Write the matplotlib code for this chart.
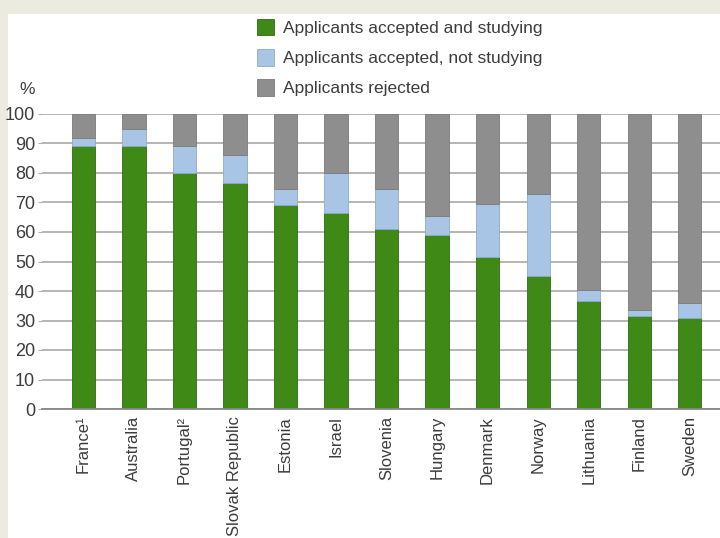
import matplotlib
matplotlib.use("Agg")
import matplotlib.pyplot as plt
import numpy as np
from matplotlib.patches import Rectangle, Patch

plt.rcParams['font.family'] = ['Liberation Sans Narrow', 'Liberation Sans', 'DejaVu Sans']

countries = ["France\u00b9", "Australia", "Portugal\u00b2", "Slovak Republic", "Estonia",
             "Israel", "Slovenia", "Hungary", "Denmark", "Norway", "Lithuania",
             "Finland", "Sweden"]
# share of applicants, %
studying = [89, 89, 80, 76.5, 69, 66.5, 61, 59, 51.5, 45, 36.5, 31.5, 31]
not_studying = [3, 6, 9, 9.5, 5.5, 13.5, 13.5, 6.5, 18, 28, 4, 2, 5]
rejected = [100 - a - b for a, b in zip(studying, not_studying)]

series_labels = ["Applicants accepted and studying",
                 "Applicants accepted, not studying",
                 "Applicants rejected"]
colors = ["#3f8a17", "#a9c5e5", "#8e8e8e"]
edges = ["#2f6c10", "#8eaacb", "#7a7a7a"]

fig = plt.figure(figsize=(7.2, 5.38), dpi=100, facecolor="white")
# beige border strips on the top and left
beige = "#ecebe0"
fig.patches.append(Rectangle((0, 1 - 14 / 538), 1, 14 / 538, transform=fig.transFigure,
                             facecolor=beige, edgecolor="none"))
fig.patches.append(Rectangle((0, 0), 8 / 720, 1, transform=fig.transFigure,
                             facecolor=beige, edgecolor="none"))

ax = fig.add_axes([42 / 720, 129 / 538, 1 - 42 / 720, 295 / 538])
ax.set_facecolor("none")
ax.set_zorder(2)

x = np.arange(len(countries))
w = 0.46
bottom = np.zeros(len(countries))
for vals, c, ec in zip([studying, not_studying, rejected], colors, edges):
    ax.bar(x, vals, w, bottom=bottom, color=c, edgecolor=ec, linewidth=0.6, zorder=3)
    bottom += np.array(vals)

ax.set_xlim(-0.82, 12.6)
ax.set_ylim(0, 100)
ax.set_yticks(np.arange(0, 101, 10))
ax.yaxis.grid(True, color="#b0b0b0", linewidth=1.3, zorder=1)
for s in ["top", "right", "left"]:
    ax.spines[s].set_visible(False)
ax.spines["bottom"].set_color("#888888")
ax.spines["bottom"].set_linewidth(1.3)
ax.spines["bottom"].set_zorder(4)

ax.tick_params(axis="y", length=3, color="#b0b0b0", labelsize=13, labelcolor="#3c3c3c", pad=2)
ax.set_xticks(x)
ax.set_xticklabels(countries, rotation=90, fontsize=12, color="#3c3c3c", va="top")
ax.tick_params(axis="x", length=0, pad=5)

fig.text(27 / 720, 1 - 90 / 538, "%", fontsize=12.5, color="#3c3c3c", ha="center", va="center")

handles = [Patch(facecolor=c, edgecolor=ec, linewidth=0.6) for c, ec in zip(colors, edges)]
fig.legend(handles, series_labels, loc="upper left", bbox_to_anchor=(248 / 720, 1 - 10 / 538),
           frameon=False, fontsize=12.5, labelcolor="#3c3c3c", handlelength=1.0,
           handleheight=1.1, handletextpad=0.5, labelspacing=0.75, borderpad=0)

fig.savefig("out.png", dpi=100)
